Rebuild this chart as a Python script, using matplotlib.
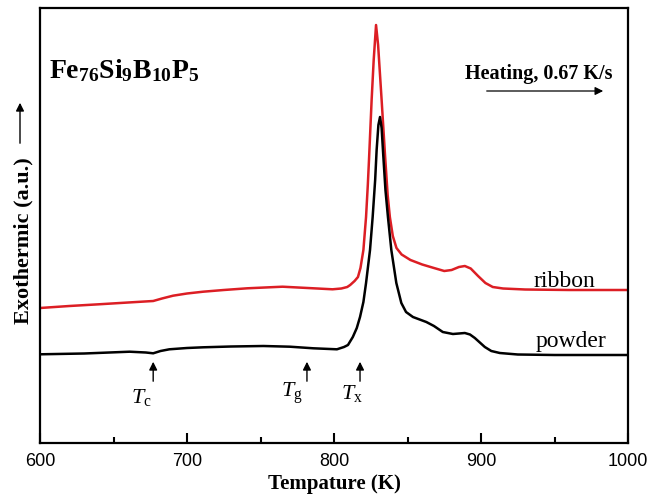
import numpy as np
import matplotlib
matplotlib.use("Agg")
import matplotlib.pyplot as plt

plt.rcParams['mathtext.fontset'] = 'custom'
plt.rcParams['mathtext.rm'] = 'Liberation Serif'
plt.rcParams['mathtext.it'] = 'Liberation Serif:italic'
plt.rcParams['mathtext.bf'] = 'Liberation Serif:bold'

# ribbon (red) curve
t_ribbon = [600, 620, 640, 660, 677, 683, 690.5, 700, 711, 725, 741, 765, 786, 799,
            805, 809, 811, 814, 816.3, 818, 820, 821.8, 823, 823.8, 825.6, 827,
            828.6, 830, 832.4, 834.7, 836.5, 838, 840, 842.5, 846, 852, 860, 868, 875,
            880, 885, 889, 893, 898, 903, 908, 915, 930, 960, 1000]
y_ribbon = [1.35, 1.37, 1.387, 1.405, 1.42, 1.445, 1.473, 1.495, 1.513, 1.53, 1.547,
            1.563, 1.547, 1.537, 1.545, 1.56, 1.58, 1.62, 1.66, 1.75, 1.93, 2.26,
            2.58, 2.83, 3.43, 3.83, 4.18, 3.98, 3.43, 2.88, 2.48, 2.26, 2.07, 1.95,
            1.885, 1.83, 1.785, 1.75, 1.72, 1.73, 1.76, 1.77, 1.745, 1.67, 1.60,
            1.56, 1.545, 1.535, 1.53, 1.53]

# powder (black) curve
t_powder = [600, 630, 661, 672, 677, 682, 688, 700, 711, 730, 752, 770, 786, 802,
            806.8, 809.5, 812.8, 815.5, 817.7, 820, 821.8, 824.5, 826.3, 828, 829,
            830.2, 831.3, 832.4, 833.5, 835, 836.7, 839, 842.4, 845.8, 849, 853.7,
            862.8, 868, 874, 880.9, 885, 889, 892.5, 895.8, 902.6, 907, 912.8, 925,
            950, 1000]
y_powder = [0.887, 0.895, 0.913, 0.905, 0.897, 0.92, 0.937, 0.95, 0.957, 0.965, 0.97,
            0.963, 0.947, 0.937, 0.96, 0.98, 1.06, 1.15, 1.26, 1.41, 1.60, 1.93,
            2.26, 2.63, 2.93, 3.18, 3.26, 3.15, 2.88, 2.53, 2.26, 1.93, 1.60, 1.40,
            1.31, 1.26, 1.21, 1.17, 1.11, 1.09, 1.095, 1.10, 1.085, 1.05, 0.96,
            0.92, 0.90, 0.885, 0.88, 0.88]

marks = [677, 781.6, 817.7]
mark_labels = [r'$T_\mathrm{c}$', r'$T_\mathrm{g}$', r'$T_\mathrm{x}$']
label_pos = [(669, 0.45), (771.5, 0.50), (812, 0.50)]

fig = plt.figure(figsize=(6.56, 5.04), dpi=100)
ax = fig.add_axes([40 / 656, 1 - 443 / 504, 588 / 656, 435 / 504])

ax.plot(t_ribbon, y_ribbon, color='#dc1e24', lw=1.8)
ax.plot(t_powder, y_powder, color='black', lw=1.8)

ax.set_xlim(600, 1000)
ax.set_ylim(0, 4.35)
ax.set_xticks([600, 700, 800, 900, 1000])
ax.set_xticks([650, 750, 850, 950], minor=True)
ax.set_yticks([])
ax.tick_params(axis='x', which='major', direction='in', length=7, width=1.5,
               labelsize=13, pad=7)
ax.tick_params(axis='x', which='minor', direction='in', length=4, width=1.5)
for lab in ax.get_xticklabels():
    lab.set_fontfamily('Liberation Sans')
for s in ax.spines.values():
    s.set_linewidth(1.6)

ax.set_xlabel('Tempature (K)', fontfamily='Liberation Serif', fontweight='bold',
              fontsize=15, labelpad=3)

# y label with arrow
fig.text(23 / 656, 1 - 241 / 504, 'Exothermic (a.u.)', rotation=90, ha='center',
         va='center', fontfamily='Liberation Serif', fontweight='bold', fontsize=16)
fig.add_artist(matplotlib.patches.FancyArrowPatch(
    (20 / 656, 1 - 146 / 504), (20 / 656, 1 - 100 / 504), transform=fig.transFigure,
    arrowstyle='-|>', mutation_scale=12, lw=1.0, color='black'))

ax.text(606, 3.65, r'$\mathbf{Fe_{76}Si_{9}B_{10}P_{5}}$', fontsize=20, va='baseline')

ax.text(889, 3.64, 'Heating, 0.67 K/s', fontfamily='Liberation Serif',
        fontweight='bold', fontsize=14.5, va='baseline')
ax.annotate('', xy=(985, 3.52), xytext=(902, 3.52),
            arrowprops=dict(arrowstyle='-|>', lw=0.9, color='black', mutation_scale=12))

ax.text(957, 1.56, 'ribbon', fontfamily='Liberation Serif', fontsize=17,
        ha='center', va='baseline')
ax.text(961, 0.96, 'powder', fontfamily='Liberation Serif', fontsize=17,
        ha='center', va='baseline')

for t, lab, (lx, ly) in zip(marks, mark_labels, label_pos):
    ax.annotate('', xy=(t, 0.84), xytext=(t, 0.59),
                arrowprops=dict(arrowstyle='-|>', lw=1.0, color='black', mutation_scale=12))
    ax.text(lx, ly, lab, fontsize=16, ha='center', va='center')

fig.savefig('out.png', dpi=100)
